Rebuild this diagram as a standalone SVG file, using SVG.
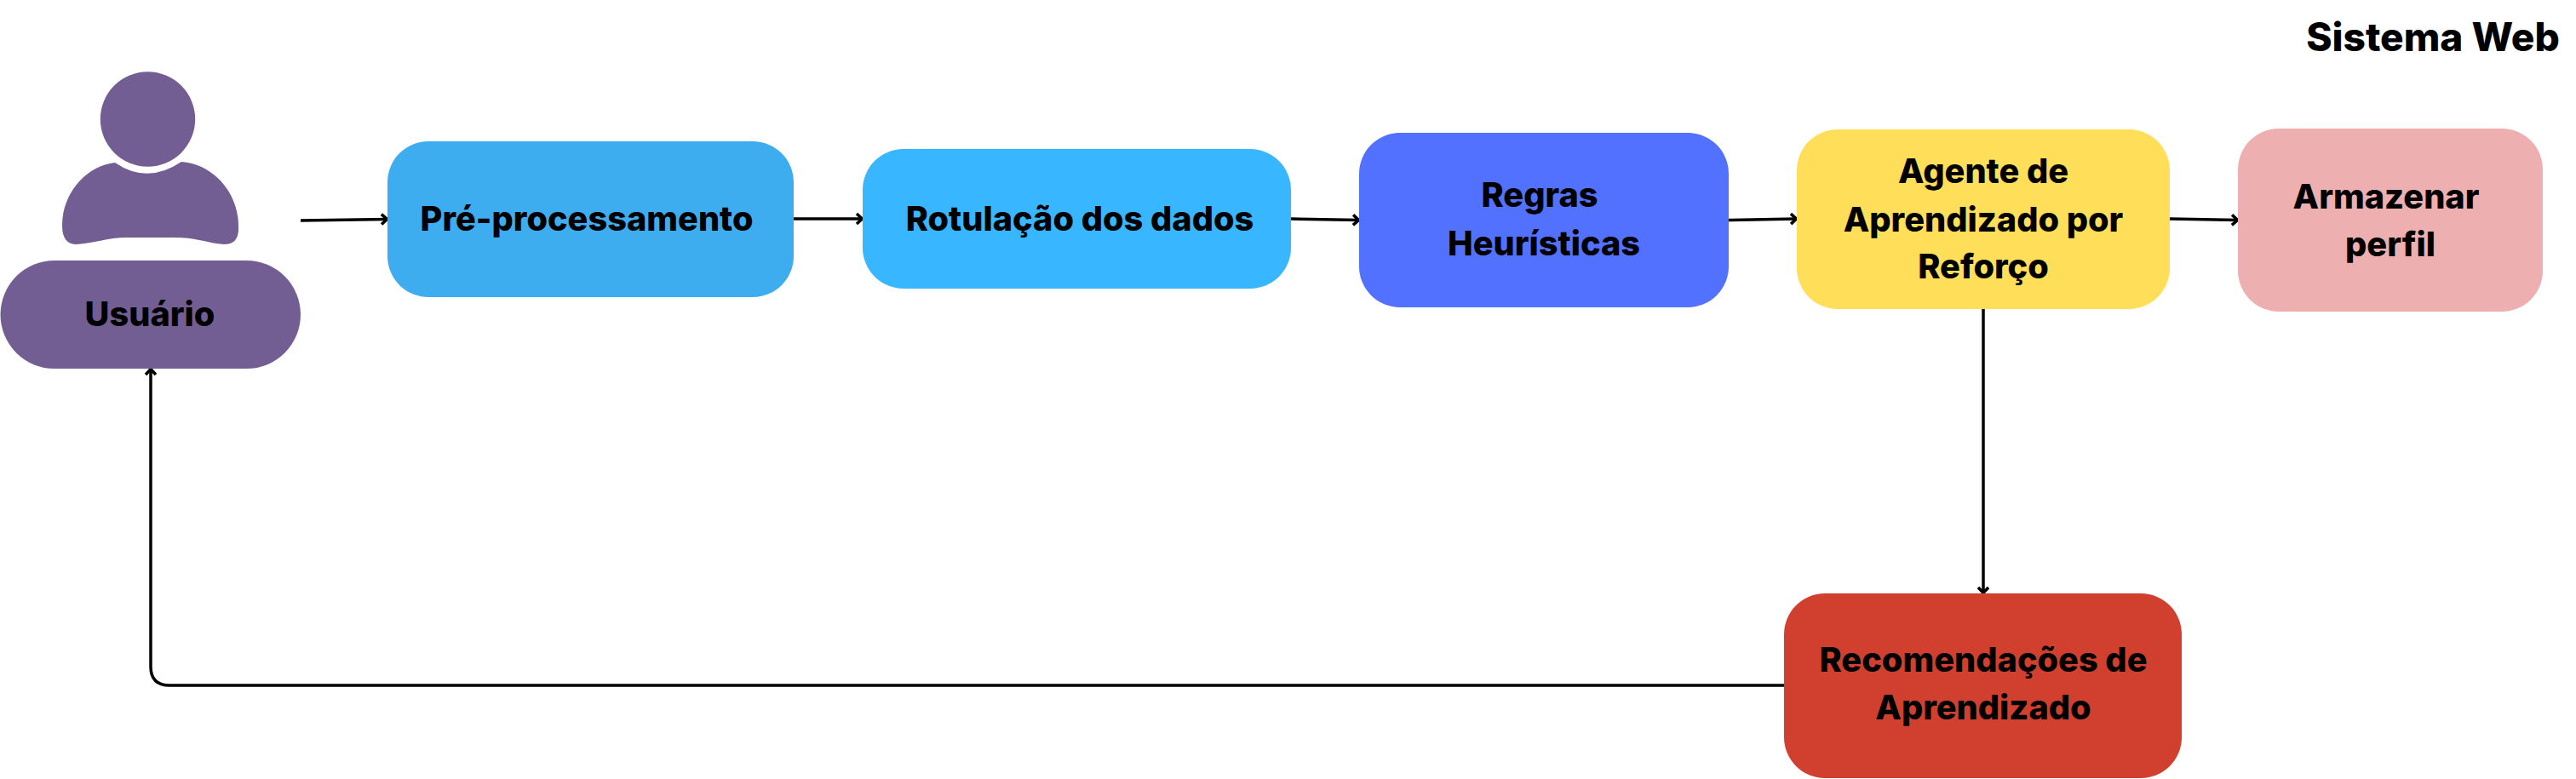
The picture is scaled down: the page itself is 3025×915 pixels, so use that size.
<svg xmlns="http://www.w3.org/2000/svg" width="3025" height="915" viewBox="0 0 3025 915">
<style>
text{font-family:"Inter","Liberation Sans",sans-serif;font-weight:800;font-size:39.700px;fill:#000;text-anchor:middle}
.c{fill:none;stroke:#000;stroke-width:3.5}
.b{rx:48px;ry:48px}
</style>
<defs>
<marker id="a" markerUnits="userSpaceOnUse" markerWidth="16" markerHeight="16" refX="11" refY="7" orient="auto" overflow="visible"><path d="M4 1L10.500 7L4 13" fill="none" stroke="#000" stroke-width="3.500"/></marker>
</defs>
<rect width="3025" height="915" fill="#fff"/>
<g id="connectors">
<path class="c" marker-end="url(#a)" d="M353 259L455 257.500"/>
<path class="c" marker-end="url(#a)" d="M932 257L1013 257"/>
<path class="c" marker-end="url(#a)" d="M1516 257L1596 258.500"/>
<path class="c" marker-end="url(#a)" d="M2030 258.500L2110 257"/>
<path class="c" marker-end="url(#a)" d="M2548 257L2628 258.500"/>
<path class="c" marker-end="url(#a)" d="M2329 363V697"/>
<path class="c" marker-end="url(#a)" d="M2095 805H199Q177 805 177 783V433"/>
</g>
<g id="usuario">
<circle cx="173.500" cy="140" r="55.700" fill="#735e94"/>
<path fill="#735e94" d="M135 191Q173 217 213 190C252 193 280 228 280 265C281 282 274 287 263 287C245 286 232 279 205 279H150C125 279 110 286 90 287C79 287 73 280 73 265C73 228 100 195 135 191Z"/>
<rect x="0.500" y="306" width="352.500" height="127" rx="63.500" fill="#735e94"/>
<text x="176" y="383">Usuário</text>
</g>
<g id="pre">
<rect class="b" x="455" y="166" width="477" height="183" fill="#3dadf0"/>
<text x="689" y="271">Pré-processamento</text>
</g>
<g id="rotulacao">
<rect class="b" x="1013" y="175" width="503" height="164" fill="#38b6ff"/>
<text x="1268" y="271">Rotulação dos dados</text>
</g>
<g id="regras">
<rect class="b" x="1596" y="156" width="434" height="205" fill="#5271ff"/>
<text x="1808" y="243">Regras</text>
<text x="1813" y="300">Heurísticas</text>
</g>
<g id="agente">
<rect class="b" x="2110" y="152" width="438" height="211" fill="#ffde59"/>
<text x="2329" y="215">Agente de</text>
<text x="2329" y="272">Aprendizado por</text>
<text x="2329" y="327">Reforço</text>
</g>
<g id="armazenar">
<rect class="b" x="2628" y="151" width="358" height="215" fill="#edafaf"/>
<text x="2802" y="245">Armazenar</text>
<text x="2807" y="301">perfil</text>
</g>
<g id="recomendacoes">
<rect class="b" x="2095" y="697" width="467" height="217" fill="#d1402f"/>
<text x="2329" y="789">Recomendações de</text>
<text x="2329" y="845">Aprendizado</text>
</g>
<g id="sistema">
<text x="2857" y="60" style="font-size:46px">Sistema Web</text>
</g>
</svg>
